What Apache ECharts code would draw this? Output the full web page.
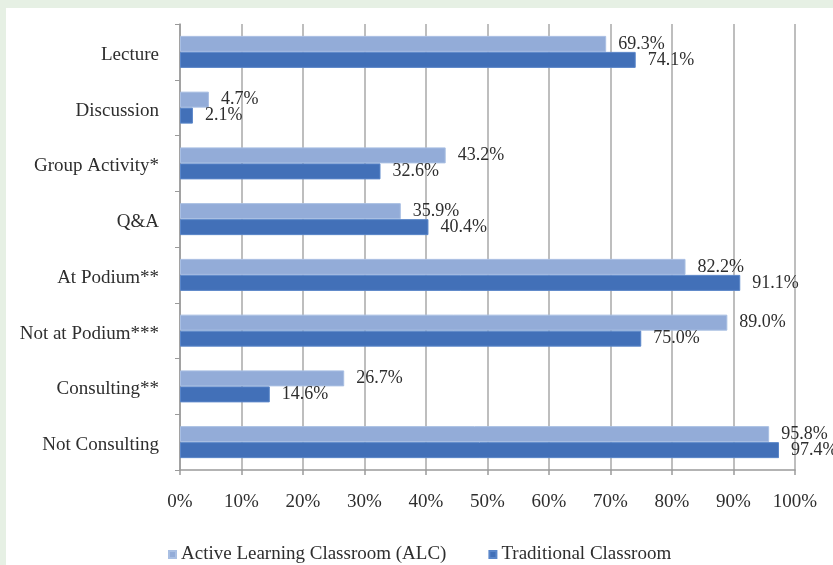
<!DOCTYPE html>
<html><head><meta charset="utf-8">
<script src="https://cdn.jsdelivr.net/npm/echarts@6/dist/echarts.min.js"></script>
<style>html,body{margin:0;padding:0;background:#e6f0e4;}#wrap{position:absolute;left:6px;top:8px;width:827px;height:557px;background:#fff;}#c{position:absolute;left:0;top:0;width:833px;height:565px;}</style>
</head><body><div id="wrap"></div><div id="c"></div>
<script>
const categories = ["Lecture","Discussion","Group Activity*","Q&A","At Podium**","Not at Podium***","Consulting**","Not Consulting"];
const alcValues = [69.3,4.7,43.2,35.9,82.2,89.0,26.7,95.8];
const tradValues = [74.1,2.1,32.6,40.4,91.1,75.0,14.6,97.4];
const seriesNames = ["Active Learning Classroom (ALC)","Traditional Classroom"];
const xTicks = [0,10,20,30,40,50,60,70,80,90,100];

const font = '"Liberation Serif","Times New Roman",serif';
const chart = echarts.init(document.getElementById('c'), null, {renderer:'canvas'});
const lbl = {show:true,position:'right',distance:12,color:'#2e2e2e',fontFamily:font,fontSize:18,formatter:p=>p.value.toFixed(1)+'%'};
chart.setOption({
  backgroundColor:'transparent',
  animation:false,
  grid:{left:180,right:38,top:24,bottom:95,containLabel:false},
  legend:{top:540,left:163,itemWidth:7,itemHeight:7,itemGap:42,icon:'rect',
    textStyle:{fontFamily:font,fontSize:19,color:'#2e2e2e'},data:seriesNames},
  xAxis:{type:'value',min:xTicks[0],max:xTicks[xTicks.length-1],interval:10,
    axisLine:{show:true,lineStyle:{color:'#9a9a9a',width:1.5}},
    axisTick:{show:true,length:5,lineStyle:{color:'#9a9a9a',width:1.5}},
    splitLine:{show:true,lineStyle:{color:'#a8a8a8',width:1.5}},
    axisLabel:{margin:23,fontFamily:font,fontSize:19,color:'#2e2e2e',formatter:v=>v+'%'}},
  yAxis:{type:'category',inverse:true,data:categories,
    axisLine:{show:true,lineStyle:{color:'#9a9a9a',width:1.5}},
    axisTick:{show:true,length:5,lineStyle:{color:'#9a9a9a'}},
    axisLabel:{margin:21,fontFamily:font,fontSize:19,color:'#2e2e2e',verticalAlign:'top',lineHeight:6}},
  series:[
    {name:seriesNames[0],type:'bar',data:alcValues,barWidth:16,barGap:'0%',
      itemStyle:{color:'#93acd8',borderColor:'#a9bfe3',borderWidth:1},label:lbl},
    {name:seriesNames[1],type:'bar',data:tradValues,barWidth:16,barGap:'0%',
      itemStyle:{color:'#4270b8',borderColor:'#5a86c9',borderWidth:1},label:lbl}
  ]
});
</script></body></html>
